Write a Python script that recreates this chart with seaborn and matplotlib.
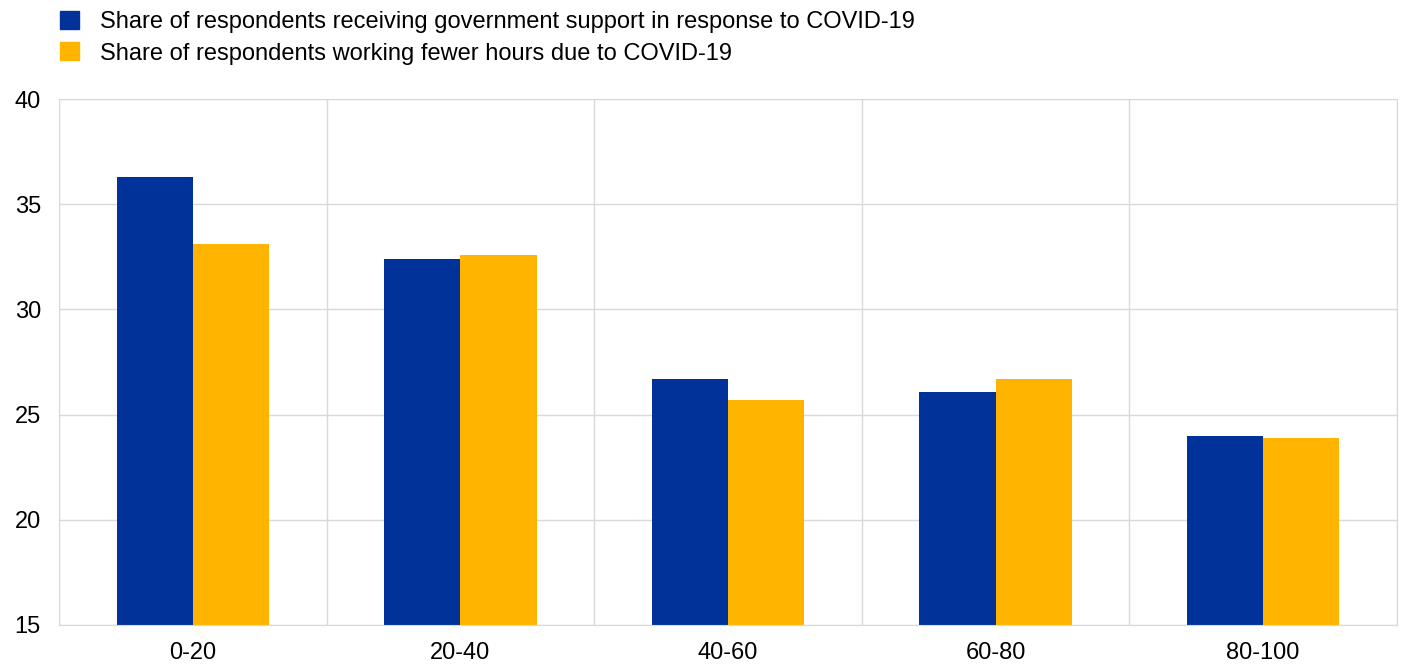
import pandas as pd
import matplotlib
matplotlib.use("Agg")
import matplotlib.pyplot as plt
import seaborn as sns

categories = ["0-20", "20-40", "40-60", "60-80", "80-100"]
support = [36.3, 32.4, 26.7, 26.1, 24.0]
fewer_hours = [33.1, 32.6, 25.7, 26.7, 23.9]
series_names = ["Share of respondents receiving government support in response to COVID-19",
                "Share of respondents working fewer hours due to COVID-19"]

df = pd.DataFrame({
    "bucket": categories * 2,
    "value": support + fewer_hours,
    "series": [series_names[0]] * 5 + [series_names[1]] * 5,
})

sns.set_style("white")
plt.rcParams["font.family"] = ["Liberation Sans", "DejaVu Sans"]
plt.rcParams["text.color"] = "black"

fig = plt.figure(figsize=(14.04, 6.66), dpi=100)
ax = fig.add_axes([0.042, 0.0616, 0.953, 0.7895])

sns.barplot(data=df, x="bucket", y="value", hue="series",
            palette=["#003299", "#FFB400"], width=0.57, ax=ax,
            saturation=1, legend=False, linewidth=0)

ax.set_ylim(15, 40)
ax.set_xlim(-0.5, 4.5)
ax.set_yticks([15, 20, 25, 30, 35, 40])
ax.set_xticks(range(5), categories)
ax.set_xticks([-0.5, 0.5, 1.5, 2.5, 3.5, 4.5], minor=True)
ax.grid(axis="y", color="#d9d9d9", lw=1)
ax.grid(axis="x", which="minor", color="#d9d9d9", lw=1)
ax.set_axisbelow(True)
for s in ax.spines.values():
    s.set_color("#d9d9d9")
ax.tick_params(axis="both", which="both", length=0, labelsize=17, colors="black")
ax.tick_params(axis="y", pad=13)
ax.tick_params(axis="x", pad=12)
ax.set_xlabel("")
ax.set_ylabel("")

handles = [plt.Rectangle((0, 0), 1, 1, color=c) for c in ["#003299", "#FFB400"]]
fig.legend(handles, series_names, loc="upper left", bbox_to_anchor=(0.0275, 1.016),
           frameon=False, fontsize=17, handlelength=0.8, handleheight=0.8,
           handletextpad=0.9, labelspacing=0.4)

fig.savefig("out.png", dpi=100)
